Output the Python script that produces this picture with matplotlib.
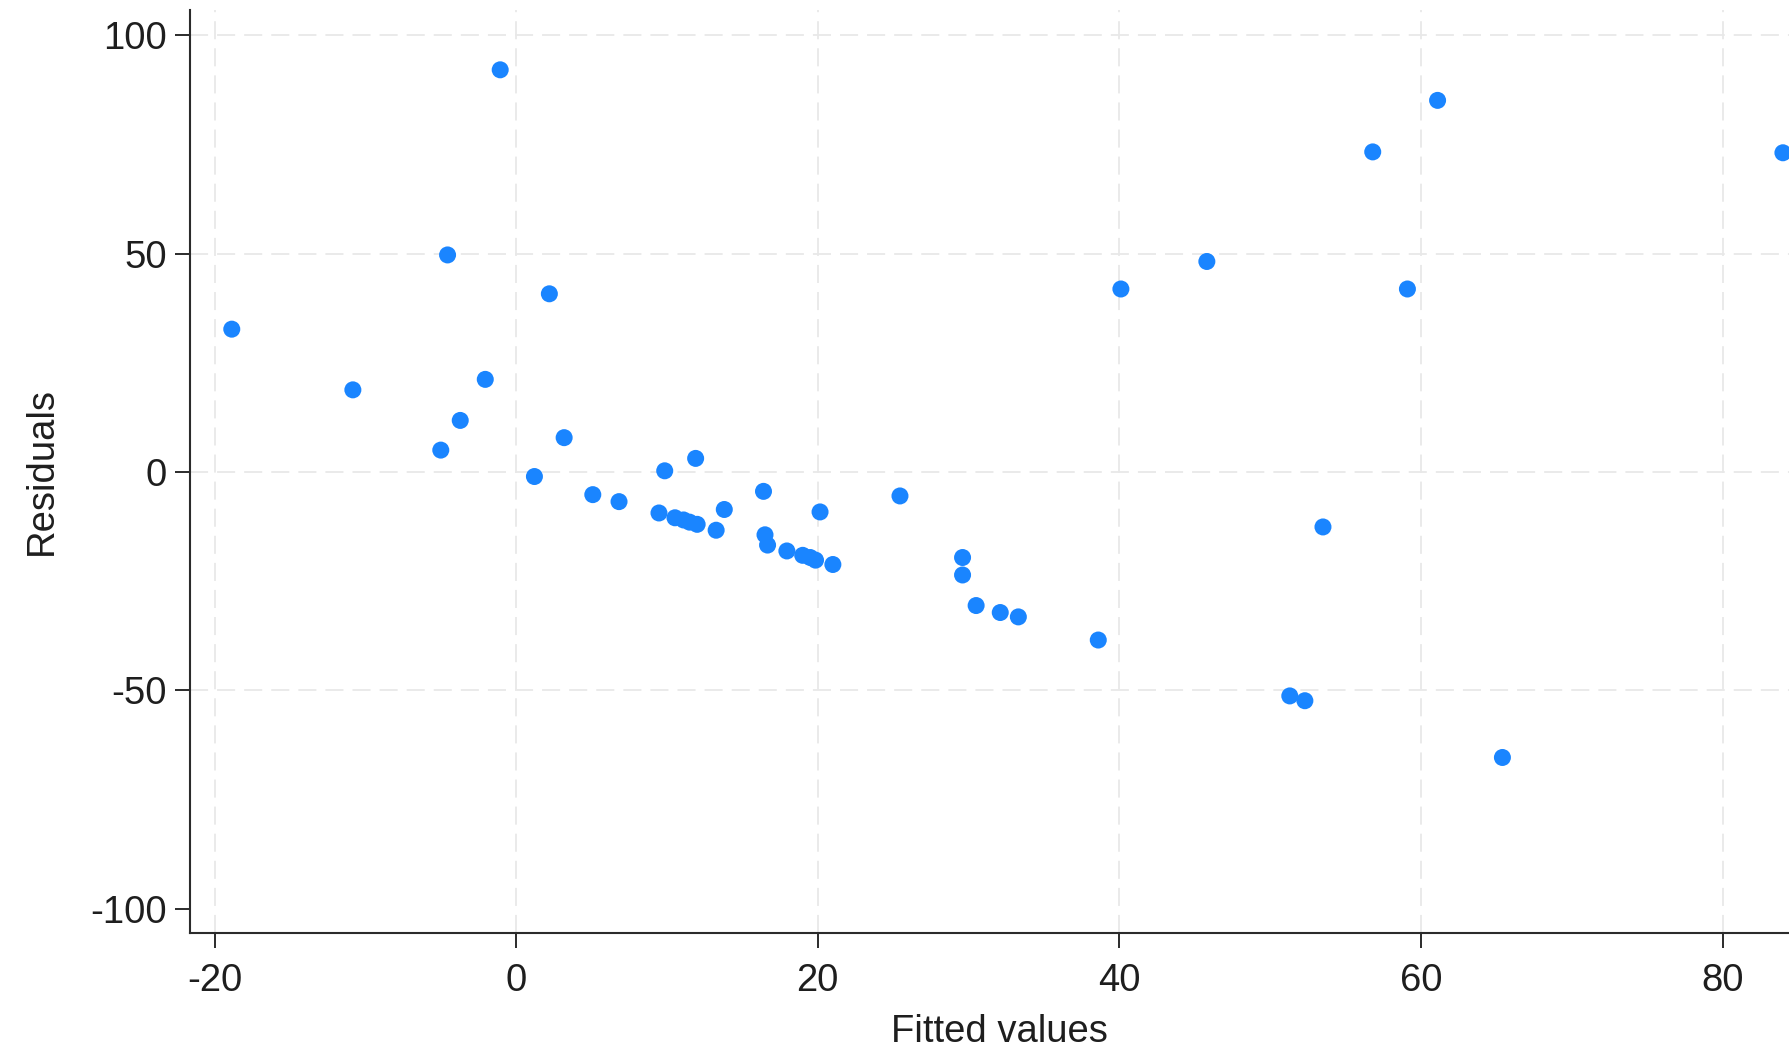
import matplotlib
matplotlib.use("Agg")
import matplotlib.pyplot as plt

plt.rcParams['font.family'] = ['Liberation Sans', 'DejaVu Sans']

fitted = [-18.86, -10.83, -4.55, -5.0, -3.71, -2.05, -1.06, 1.21, 2.20, 3.18,
          5.08, 6.82, 9.47, 9.85, 10.53, 11.1, 11.5, 12.0, 11.9, 13.26,
          13.8, 16.4, 16.5, 16.67, 17.95, 19.0, 19.5, 19.85, 20.15, 21.0,
          25.45, 29.6, 29.6, 30.5, 32.1, 33.3, 38.6, 40.1, 45.8, 51.3,
          52.3, 53.5, 56.8, 59.1, 61.1, 65.4, 84.0]
resid = [32.7, 18.8, 49.7, 5.0, 11.8, 21.2, 92.1, -1.05, 40.8, 7.85,
         -5.2, -6.8, -9.4, 0.26, -10.5, -11.0, -11.5, -12.0, 3.1, -13.35,
         -8.6, -4.45, -14.4, -16.75, -18.1, -19.1, -19.6, -20.2, -9.16, -21.2,
         -5.5, -19.6, -23.6, -30.6, -32.2, -33.2, -38.5, 41.9, 48.2, -51.3,
         -52.4, -12.6, 73.3, 41.9, 85.1, -65.4, 73.1]

xticks = [-20, 0, 20, 40, 60, 80]
yticks = [-100, -50, 0, 50, 100]
ygrid = [-50, 0, 50, 100]

fig = plt.figure(figsize=(17.9, 10.47), dpi=100)
ax = fig.add_axes([190/1790, 1 - 933/1047, 1 - 190/1790, (933 - 10)/1047])

# light dashed grid like the stata scheme
for gx in xticks:
    ax.axvline(gx, color='#e8e8e8', lw=1.3, ls=(0, (10, 5)), zorder=0)
for gy in ygrid:
    ax.axhline(gy, color='#e8e8e8', lw=1.3, ls=(0, (10, 5)), zorder=0)

ax.scatter(fitted, resid, s=150, color='#1a85ff', edgecolors='none', zorder=3)

ax.set_xlim(-21.63, 84.47)
ax.set_ylim(-105.6, 105.8)
ax.set_xticks(xticks)
ax.set_yticks(yticks)
ax.set_xticklabels([str(t) for t in xticks])
ax.set_yticklabels([str(t) for t in yticks])

for side in ['top', 'right']:
    ax.spines[side].set_visible(False)
for side in ['left', 'bottom']:
    ax.spines[side].set_color('#2b2b2b')
    ax.spines[side].set_linewidth(1.5)

ax.tick_params(axis='both', direction='out', length=10.8, width=1.4,
               color='#2b2b2b', labelsize=27.5, labelcolor='#1e1e1e')
ax.tick_params(axis='x', pad=11)
ax.tick_params(axis='y', pad=6)

fig.text(999/1790, (1047 - 1041.7)/1047, 'Fitted values', fontsize=27.5,
         ha='center', va='baseline', color='#1e1e1e')
fig.text(52/1790, 1 - 471/1047, 'Residuals', fontsize=27.5, rotation=90,
         rotation_mode='anchor', ha='center', va='baseline', color='#1e1e1e')

fig.savefig('out.png', dpi=100)
